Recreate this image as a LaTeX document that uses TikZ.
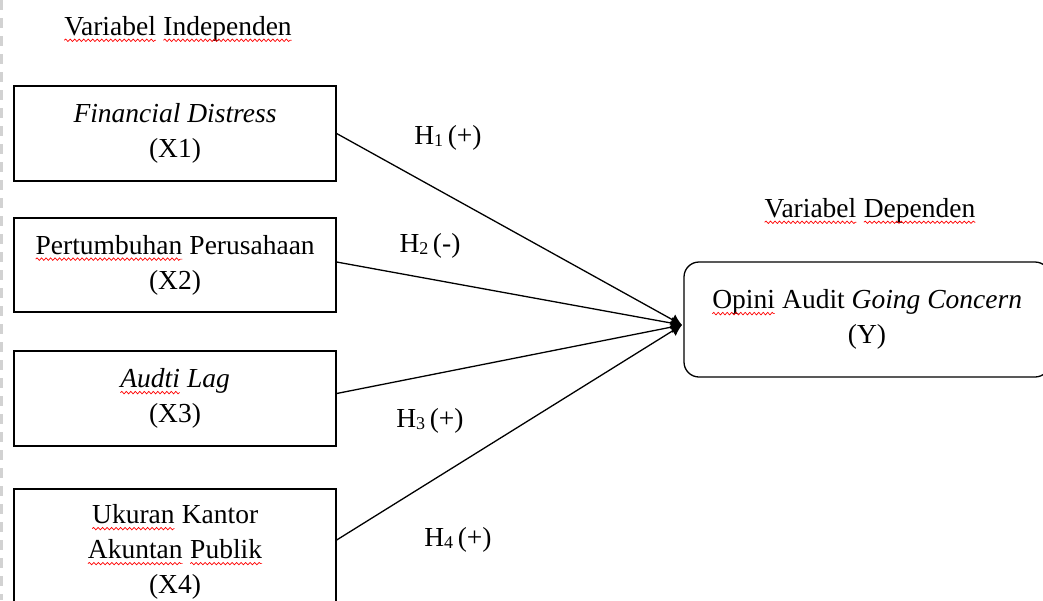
\documentclass[tikz,border=0pt]{standalone}
\usepackage{fontspec}
\setmainfont{Liberation Serif}
\usetikzlibrary{arrows.meta,decorations.pathmorphing}
\newcommand{\wv}[1]{\tikz[baseline=(W.base)]{\node[inner sep=0pt,outer sep=0pt,draw=none,fill=none,minimum width=0pt,minimum height=0pt,rounded corners=0pt,align=left](W) at (0,0){#1};\draw[red,line width=0.7pt,rounded corners=0pt,decorate,decoration={snake,amplitude=1.2pt,segment length=4.5pt}]([yshift=-5pt]W.base west)--([yshift=-5pt]W.base east);}}
\newcommand{\hs}[1]{H\raisebox{-1.5pt}{\fontsize{18}{18}\selectfont #1}\,}
\tikzset{
  txt/.style={font=\fontsize{27.5}{35}\selectfont, inner sep=0pt, align=center},
  box/.style={draw, line width=1.3pt, font=\fontsize{27.5}{35}\selectfont, align=center, minimum width=322pt},
  rbox/.style={draw, line width=1.3pt, rounded corners=15pt, font=\fontsize{27.5}{35}\selectfont, align=center, minimum width=366pt, minimum height=115pt},
  arr/.style={line width=1.3pt, -{Latex[length=11pt,width=12pt]}}
}
\begin{document}
\begin{tikzpicture}[x=1pt,y=-1pt]
\useasboundingbox (0,0) rectangle (1043,600);
\clip (0,0) rectangle (1043,600);
\draw[gray!35, line width=3pt, dash pattern=on 10pt off 8pt] (1.5,0) -- (1.5,600);

\node[txt] (ti) at (178,29) {\wv{Variabel} \wv{Independen}};
\node[txt] (td) at (870,211) {\wv{Variabel} \wv{Dependen}};

\node[box, minimum height=95pt] (x1) at (175,133.5) {\textit{Financial Distress}\\(X1)};
\node[box, minimum height=94pt] (x2) at (175,265) {\wv{Pertumbuhan} Perusahaan\\(X2)};
\node[box, minimum height=95pt] (x3) at (175,398.5) {\wv{\textit{Audti}} \textit{Lag}\\(X3)};
\node[box, minimum height=126pt] (x4) at (175,552) {\wv{Ukuran} Kantor\\\wv{Akuntan} \wv{Publik}\\(X4)};

\node[rbox] (y) at (867,319.5) {\wv{Opini} Audit \textit{Going Concern}\\(Y)};

\coordinate (tip) at (682,325);
\draw[arr] (x1.east) -- (tip);
\draw[arr] ([yshift=3pt]x2.east) -- (tip);
\draw[arr] ([yshift=5pt]x3.east) -- (tip);
\draw[arr] ([yshift=12pt]x4.east) -- (tip);

\node[txt] (h1) at (448,138) {\hs{1}(+)};
\node[txt] (h2) at (430,246) {\hs{2}(-)};
\node[txt] (h3) at (430,421) {\hs{3}(+)};
\node[txt] (h4) at (458,540) {\hs{4}(+)};
\end{tikzpicture}
\end{document}
